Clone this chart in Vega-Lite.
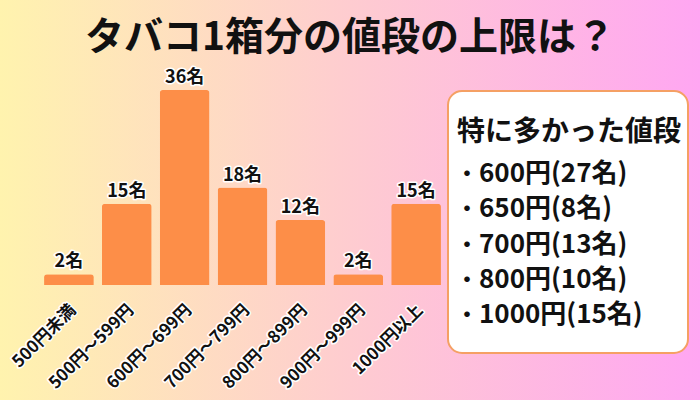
{
  "$schema": "https://vega.github.io/schema/vega-lite/v6.json",
  "description": "タバコ1箱分の値段の上限は？",
  "width": 700,
  "height": 400,
  "autosize": {"type": "fit", "contains": "padding"},
  "padding": 0,
  "title": {
    "text": "タバコ1箱分の値段の上限は？",
    "font": "Noto Sans CJK JP",
    "fontSize": 39,
    "fontWeight": "bold",
    "color": "#111111",
    "anchor": "middle",
    "offset": -58
  },
  "layer": [
    {
      "data": {"values": [{}]},
      "mark": {
        "type": "rect",
        "fill": {
          "gradient": "linear",
          "x1": 0, "y1": 0, "x2": 1, "y2": 0,
          "stops": [
            {"offset": 0, "color": "#FFF3AE"},
            {"offset": 0.5, "color": "#FECCD0"},
            {"offset": 1, "color": "#FFA6F2"}
          ]
        }
      }
    },
    {
      "data": {
        "values": [
          {"range": "500円未満", "count": 2, "label": "2名"},
          {"range": "500円～599円", "count": 15, "label": "15名"},
          {"range": "600円～699円", "count": 36, "label": "36名"},
          {"range": "700円～799円", "count": 18, "label": "18名"},
          {"range": "800円～899円", "count": 12, "label": "12名"},
          {"range": "900円～999円", "count": 2, "label": "2名"},
          {"range": "1000円以上", "count": 15, "label": "15名"}
        ]
      },
      "encoding": {
        "x": {
          "field": "range",
          "type": "nominal",
          "sort": null,
          "axis": null,
          "scale": {"type": "band", "range": [40, 445], "paddingInner": 0.14, "paddingOuter": 0.07}
        },
        "y": {
          "field": "count",
          "type": "quantitative",
          "axis": null,
          "scale": {"domain": [0, 36], "range": [285, 90], "nice": false}
        }
      },
      "layer": [
        {
          "mark": {"type": "bar", "color": "#FD8E48", "cornerRadiusTopLeft": 3, "cornerRadiusTopRight": 3}
        },
        {
          "mark": {"type": "text", "font": "Noto Sans CJK JP", "fontSize": 18, "fontWeight": "bold", "baseline": "alphabetic", "dy": -7, "stroke": "white", "strokeWidth": 3, "strokeJoin": "round", "fill": "white"},
          "encoding": {"text": {"field": "label"}}
        },
        {
          "mark": {"type": "text", "font": "Noto Sans CJK JP", "fontSize": 18, "fontWeight": "bold", "baseline": "alphabetic", "dy": -7, "fill": "#111111"},
          "encoding": {"text": {"field": "label"}}
        },
        {
          "mark": {"type": "text", "font": "Noto Sans CJK JP", "fontSize": 17, "fontWeight": "bold", "angle": -45, "align": "right", "baseline": "middle", "dx": -13, "dy": 19, "stroke": "white", "strokeWidth": 3, "strokeJoin": "round", "fill": "white"},
          "encoding": {"y": {"datum": 0}, "text": {"field": "range"}}
        },
        {
          "mark": {"type": "text", "font": "Noto Sans CJK JP", "fontSize": 17, "fontWeight": "bold", "angle": -45, "align": "right", "baseline": "middle", "dx": -13, "dy": 19, "fill": "#111111"},
          "encoding": {"y": {"datum": 0}, "text": {"field": "range"}}
        }
      ]
    },
    {
      "layer": [
        {
          "data": {"values": [{}]},
          "mark": {"type": "rect", "fill": "white", "stroke": "#F5A064", "strokeWidth": 2, "cornerRadius": 14},
          "encoding": {
            "x": {"datum": 0, "type": "quantitative", "axis": null, "scale": {"domain": [0, 1], "range": [448, 688]}},
            "x2": {"datum": 1},
            "y": {"datum": 0, "type": "quantitative", "axis": null, "scale": {"domain": [0, 1], "range": [91, 353]}},
            "y2": {"datum": 1}
          }
        },
        {
          "data": {
            "values": [
              {"line": "特に多かった値段", "kind": "head"},
              {"line": "600円(27名)", "kind": "item"},
              {"line": "650円(8名)", "kind": "item"},
              {"line": "700円(13名)", "kind": "item"},
              {"line": "800円(10名)", "kind": "item"},
              {"line": "1000円(15名)", "kind": "item"}
            ]
          },
          "encoding": {
            "x": {"datum": 0, "type": "quantitative", "axis": null, "scale": {"domain": [0, 1], "range": [448, 688]}},
            "y": {"field": "line", "type": "ordinal", "sort": null, "axis": null, "scale": {"type": "point", "range": [139, 315], "padding": 0}}
          },
          "layer": [
            {
              "transform": [{"filter": "datum.kind == 'head'"}],
              "mark": {"type": "text", "font": "Noto Sans CJK JP", "fontSize": 28, "fontWeight": "bold", "align": "left", "baseline": "middle", "dx": 9, "dy": -6, "fill": "#111111"},
              "encoding": {"text": {"field": "line"}}
            },
            {
              "transform": [{"filter": "datum.kind == 'item'"}],
              "mark": {"type": "text", "font": "Noto Sans CJK JP", "fontSize": 22, "fontWeight": "bold", "align": "left", "baseline": "middle", "dx": 8, "fill": "#111111", "text": "・"}
            },
            {
              "transform": [{"filter": "datum.kind == 'item'"}],
              "mark": {"type": "text", "font": "Noto Sans CJK JP", "fontSize": 26, "fontWeight": "bold", "align": "left", "baseline": "middle", "dx": 31, "fill": "#111111"},
              "encoding": {"text": {"field": "line"}}
            }
          ]
        }
      ],
      "resolve": {"scale": {"y": "independent"}}
    }
  ],
  "resolve": {"scale": {"x": "independent", "y": "independent"}},
  "config": {"view": {"stroke": null}}
}
